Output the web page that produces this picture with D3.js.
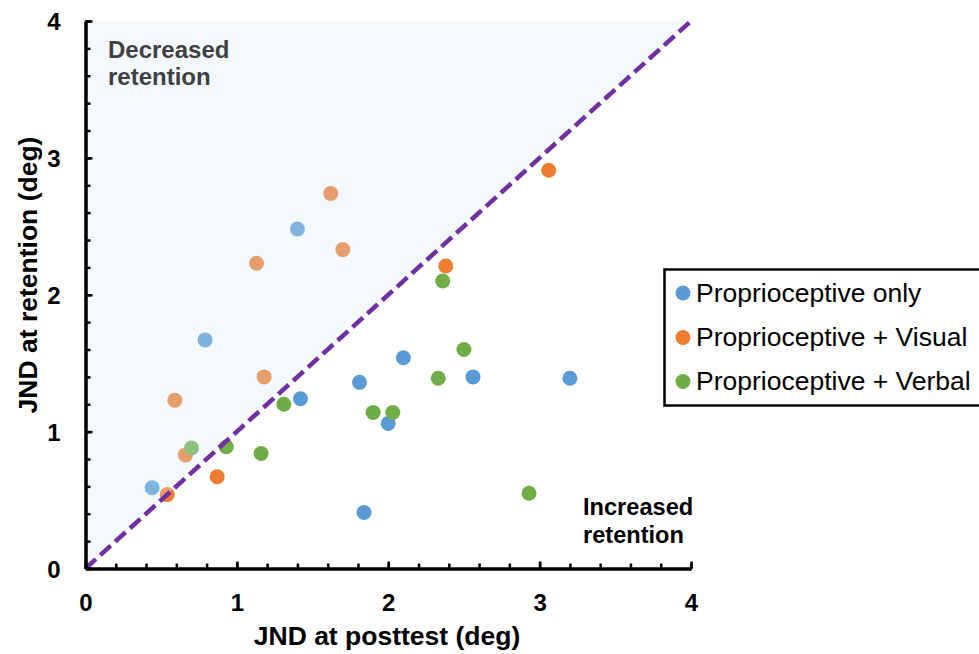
<!DOCTYPE html>
<html>
<head>
<meta charset="utf-8">
<script src="https://cdn.jsdelivr.net/npm/d3@7"></script>
<style>
  html, body { margin: 0; padding: 0; background: #fff; }
  svg { display: block; font-family: "Liberation Sans", Arial, sans-serif; }
</style>
</head>
<body>
<svg id="chart" width="979" height="654"></svg>
<script>
// ---- Data ----
const seriesNames = ["Proprioceptive only", "Proprioceptive + Visual", "Proprioceptive + Verbal"];
const seriesColors = ["#5B9BD5", "#ED7D31", "#70AD47"];
const onlyX   = [0.44, 0.79, 1.40, 1.42, 1.81, 2.10, 2.00, 2.56, 3.20, 1.84];
const onlyY   = [0.59, 1.67, 2.48, 1.24, 1.36, 1.54, 1.06, 1.40, 1.39, 0.41];
const visualX = [1.62, 1.70, 1.13, 1.18, 0.59, 0.66, 0.54, 0.87, 2.38, 3.06];
const visualY = [2.74, 2.33, 2.23, 1.40, 1.23, 0.83, 0.54, 0.67, 2.21, 2.91];
const verbalX = [0.70, 0.93, 1.16, 1.31, 2.36, 2.50, 2.33, 1.90, 2.03, 2.93];
const verbalY = [0.88, 0.89, 0.84, 1.20, 2.10, 1.60, 1.39, 1.14, 1.14, 0.55];
const majorTicks = [0, 1, 2, 3, 4];
const minorStep = 0.2;
const xTitle = "JND at posttest (deg)";
const yTitle = "JND at retention (deg)";

const series = [
  { name: seriesNames[0], color: seriesColors[0], xs: onlyX, ys: onlyY },
  { name: seriesNames[1], color: seriesColors[1], xs: visualX, ys: visualY },
  { name: seriesNames[2], color: seriesColors[2], xs: verbalX, ys: verbalY }
];

const svg = d3.select("#chart");
const x = d3.scaleLinear().domain([0, 4]).range([85.5, 691]);
const y = d3.scaleLinear().domain([0, 4]).range([568.5, 21]);

// ---- Points ----
const gPts = svg.append("g");
series.forEach(s => {
  gPts.selectAll(null)
    .data(s.xs.map((v, i) => [v, s.ys[i]]))
    .enter().append("circle")
    .attr("cx", d => x(d[0]))
    .attr("cy", d => y(d[1]))
    .attr("r", 7.5)
    .attr("fill", s.color);
});

// ---- Shaded "decreased retention" triangle (semi-transparent overlay) ----
svg.append("path")
  .attr("d", d3.line()([[x(0), y(0)], [x(0), y(4)], [x(4), y(4)]]) + "Z")
  .attr("fill", "rgb(220,234,247)")
  .attr("fill-opacity", 0.3);

// ---- Identity line ----
svg.append("line")
  .attr("x1", x(0)).attr("y1", y(0))
  .attr("x2", x(4)).attr("y2", y(4))
  .attr("stroke", "#7030A0")
  .attr("stroke-width", 4.5)
  .attr("stroke-dasharray", "14,6");

// ---- Axes ----
const minorTicks = d3.range(0, 4 + 1e-9, minorStep).map(v => +v.toFixed(2));

const xMinor = d3.axisBottom(x).tickValues(minorTicks).tickSize(-5).tickSizeOuter(0).tickFormat("");
const xMajor = d3.axisBottom(x).tickValues(majorTicks).tickSize(-7).tickSizeOuter(0).tickPadding(0).tickFormat(d3.format("d"));
const yMinor = d3.axisLeft(y).tickValues(minorTicks).tickSize(-5).tickSizeOuter(0).tickFormat("");
const yMajor = d3.axisLeft(y).tickValues(majorTicks).tickSize(-7).tickSizeOuter(0).tickPadding(0).tickFormat(d3.format("d"));

function styleAxis(g) {
  g.select(".domain").attr("stroke", "#000").attr("stroke-width", 3);
  g.selectAll(".tick line").attr("stroke", "#000").attr("stroke-width", 2.5);
}

svg.append("g").attr("transform", `translate(0,${y(0)})`).call(xMinor).call(styleAxis);
const gx = svg.append("g").attr("transform", `translate(0,${y(0)})`).call(xMajor).call(styleAxis);
gx.selectAll(".tick text")
  .attr("y", 42).attr("dy", null)
  .attr("font-size", 24).attr("font-weight", "bold").attr("fill", "#000")
  .attr("font-family", "'Liberation Sans', Arial, sans-serif");

svg.append("g").attr("transform", `translate(${x(0)},0)`).call(yMinor).call(styleAxis);
const gy = svg.append("g").attr("transform", `translate(${x(0)},0)`).call(yMajor).call(styleAxis);
gy.selectAll(".tick text")
  .attr("x", -25).attr("dy", "0.36em")
  .attr("font-size", 24).attr("font-weight", "bold").attr("fill", "#000")
  .attr("font-family", "'Liberation Sans', Arial, sans-serif");

// ---- Axis titles ----
svg.append("text")
  .attr("x", 387).attr("y", 645)
  .attr("text-anchor", "middle")
  .attr("font-size", 26.5).attr("font-weight", "bold").attr("fill", "#000")
  .text(xTitle);

svg.append("text")
  .attr("transform", "translate(37,275) rotate(-90)")
  .attr("text-anchor", "middle")
  .attr("font-size", 26.5).attr("font-weight", "bold").attr("fill", "#000")
  .text(yTitle);

// ---- Region annotations ----
const dec = svg.append("text").attr("font-size", 24).attr("font-weight", "bold").attr("fill", "#404040");
dec.append("tspan").attr("x", 108).attr("y", 58).text("Decreased");
dec.append("tspan").attr("x", 108).attr("y", 85).text("retention");

const inc = svg.append("text").attr("font-size", 23.6).attr("font-weight", "bold").attr("fill", "#000");
inc.append("tspan").attr("x", 583).attr("y", 515).text("Increased");
inc.append("tspan").attr("x", 583).attr("y", 543).text("retention");

// ---- Legend ----
const lg = svg.append("g");
lg.append("rect")
  .attr("x", 664.5).attr("y", 269.5)
  .attr("width", 330).attr("height", 136)
  .attr("fill", "#fff").attr("stroke", "#000").attr("stroke-width", 2.5);
const rowY = [293, 337.5, 381.5];
series.forEach((s, i) => {
  lg.append("circle").attr("cx", 683).attr("cy", rowY[i]).attr("r", 7.5).attr("fill", s.color);
  lg.append("text").attr("x", 696).attr("y", rowY[i] + 8.5)
    .attr("font-size", 26.5).attr("fill", "#000").text(s.name);
});
</script>
</body>
</html>
